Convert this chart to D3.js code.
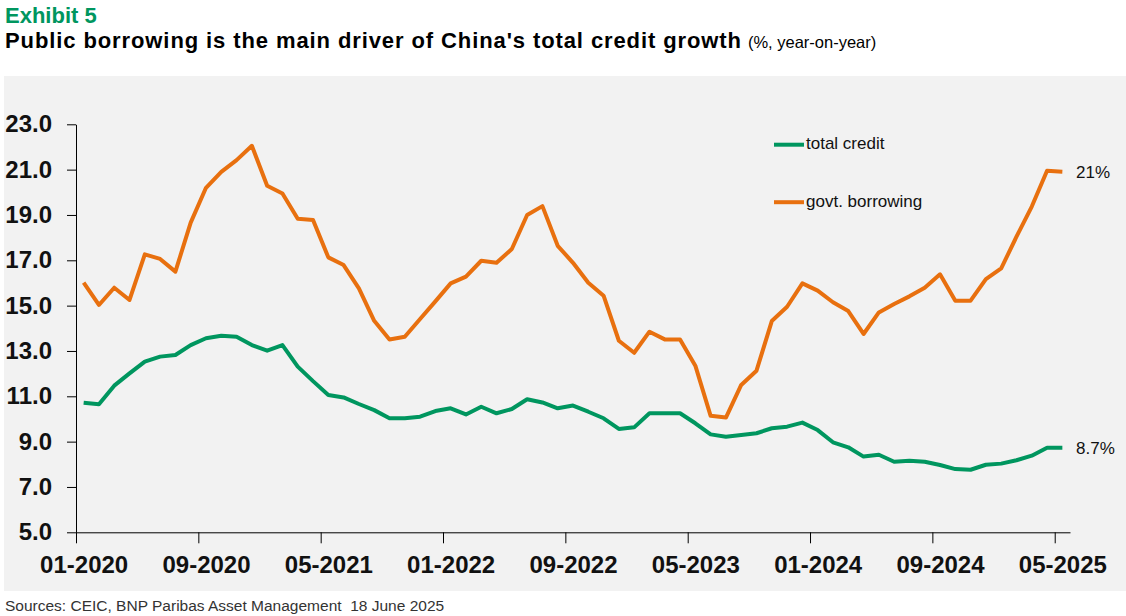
<!DOCTYPE html>
<html>
<head>
<meta charset="utf-8">
<script src="https://cdn.jsdelivr.net/npm/d3@7"></script>
<style>
  body { margin: 0; background: #fff; }
  svg { display: block; font-family: "Liberation Sans", Arial, sans-serif; }
</style>
</head>
<body>
<svg width="1126" height="616"></svg>
<script>
// monthly, 01-2020 .. 05-2025 (65 months)
const totalCredit = [
  10.72, 10.65, 11.47, 12.01, 12.53, 12.75, 12.82, 13.26, 13.56, 13.67,
  13.63, 13.26, 13.01, 13.26, 12.31, 11.67, 11.06, 10.95, 10.66, 10.39,
  10.03, 10.03, 10.10, 10.35, 10.47, 10.20, 10.54, 10.25, 10.44, 10.87,
  10.73, 10.47, 10.59, 10.32, 10.03, 9.56, 9.63, 10.25, 10.25, 10.25,
  9.81, 9.32, 9.22, 9.29, 9.37, 9.59, 9.66, 9.84, 9.51, 8.97,
  8.75, 8.34, 8.42, 8.11, 8.16, 8.11, 7.97, 7.79, 7.76, 7.98,
  8.03, 8.18, 8.38, 8.73, 8.73
];
const govtBorrowing = [
  16.01, 15.03, 15.79, 15.25, 17.26, 17.06, 16.50, 18.66, 20.20, 20.90,
  21.42, 22.05, 20.29, 19.95, 18.83, 18.78, 17.13, 16.79, 15.76, 14.33,
  13.51, 13.63, 14.41, 15.19, 15.98, 16.28, 16.98, 16.89, 17.50, 19.00,
  19.39, 17.64, 16.89, 16.01, 15.44, 13.45, 12.92, 13.85, 13.51, 13.51,
  12.35, 10.14, 10.06, 11.50, 12.13, 14.32, 14.95, 15.98, 15.66, 15.15,
  14.76, 13.75, 14.70, 15.07, 15.41, 15.79, 16.38, 15.22, 15.22, 16.17,
  16.64, 18.04, 19.37, 20.95, 20.91
];
const xTickLabels = ["01-2020", "09-2020", "05-2021", "01-2022", "09-2022",
  "05-2023", "01-2024", "09-2024", "05-2025"];
const yTicks = [5, 7, 9, 11, 13, 15, 17, 19, 21, 23];
const seriesNames = ["total credit", "govt. borrowing"];
const endLabels = ["8.7%", "21%"];

const green = "#00965f";
const orange = "#e8700f";

const svg = d3.select("svg");

svg.append("rect")
  .attr("x", 4).attr("y", 76)
  .attr("width", 1122).attr("height", 515)
  .attr("fill", "#f2f2f2");

svg.append("text")
  .attr("x", 5).attr("y", 23)
  .attr("font-size", 22).attr("font-weight", "bold")
  .attr("fill", green)
  .text("Exhibit 5");

const title = svg.append("text")
  .attr("x", 5).attr("y", 48)
  .attr("font-size", 22).attr("font-weight", "bold")
  .attr("fill", "#000");
title.append("tspan")
  .attr("letter-spacing", 0.9)
  .text("Public borrowing is the main driver of China's total credit growth");
title.append("tspan")
  .attr("font-size", 16.5).attr("font-weight", "normal")
  .attr("dx", 6)
  .text("(%, year-on-year)");

svg.append("text")
  .attr("x", 5).attr("y", 611)
  .attr("font-size", 15.5).attr("fill", "#333")
  .style("white-space", "pre")
  .text("Sources: CEIC, BNP Paribas Asset Management  18 June 2025");

const x = d3.scaleLinear().domain([0, 65]).range([76, 1070]);
const y = d3.scaleLinear().domain([5, 23]).range([532.3, 124.3]);

const yAxis = svg.append("g")
  .attr("transform", "translate(76,0)")
  .call(d3.axisLeft(y).tickValues(yTicks).tickFormat(d3.format(".1f"))
    .tickSizeInner(9).tickSizeOuter(0).tickPadding(15));
yAxis.selectAll("text")
  .attr("font-size", 24).attr("font-weight", "bold")
  .attr("font-family", "Liberation Sans, Arial, sans-serif")
  .attr("fill", "#111");

const xAxis = svg.append("g")
  .attr("transform", "translate(0,532.3)")
  .call(d3.axisBottom(x).tickValues(d3.range(0, 65, 8))
    .tickFormat((d, i) => xTickLabels[i])
    .tickSizeInner(11).tickSizeOuter(0).tickPadding(13));
xAxis.selectAll("text")
  .attr("x", x(0.5) - x(0))
  .attr("font-size", 24).attr("font-weight", "bold")
  .attr("font-family", "Liberation Sans, Arial, sans-serif")
  .attr("fill", "#111");
svg.selectAll(".domain, .tick line").attr("stroke", "#000");

const line = d3.line()
  .x((d, i) => x(i + 0.5))
  .y(d => y(d));

[totalCredit, govtBorrowing].forEach((s, k) => {
  svg.append("path")
    .datum(s)
    .attr("fill", "none")
    .attr("stroke", k ? orange : green)
    .attr("stroke-width", 4)
    .attr("stroke-linejoin", "round")
    .attr("d", line);

  svg.append("text")
    .attr("x", 1076)
    .attr("y", y(s[s.length - 1]) + 6)
    .attr("font-size", 17).attr("fill", "#111")
    .text(endLabels[k]);
});

const legend = svg.append("g");
seriesNames.forEach((name, k) => {
  const ly = 144.7 + k * 57.5;
  legend.append("line")
    .attr("x1", 774).attr("x2", 804)
    .attr("y1", ly).attr("y2", ly)
    .attr("stroke", k ? orange : green)
    .attr("stroke-width", 4);
  legend.append("text")
    .attr("x", 806).attr("y", ly + 4.5)
    .attr("font-size", 17).attr("fill", "#111")
    .text(name);
});
</script>
</body>
</html>
